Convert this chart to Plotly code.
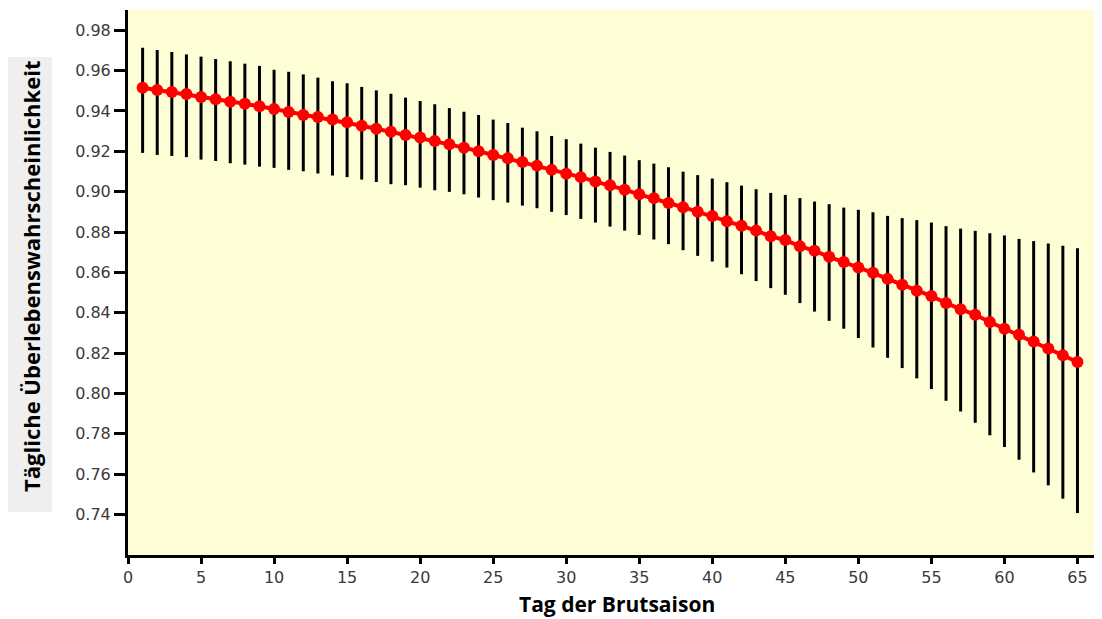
import plotly.graph_objects as go

days = list(range(1, 66))

mean = [0.9515, 0.9504, 0.9494, 0.9484, 0.9469, 0.9458, 0.9446, 0.9436, 0.9423, 0.9410,
        0.9395, 0.9380, 0.9370, 0.9357, 0.9344, 0.9327, 0.9312, 0.9297, 0.9281, 0.9268,
        0.9251, 0.9235, 0.9218, 0.9200, 0.9182, 0.9166, 0.9147, 0.9129, 0.9108, 0.9089,
        0.9072, 0.9050, 0.9032, 0.9010, 0.8987, 0.8968, 0.8944, 0.8923, 0.8900, 0.8879,
        0.8854, 0.8831, 0.8807, 0.8779, 0.8760, 0.8730, 0.8707, 0.8677, 0.8652, 0.8624,
        0.8598, 0.8568, 0.8539, 0.8509, 0.8483, 0.8448, 0.8418, 0.8390, 0.8354, 0.8321,
        0.8291, 0.8258, 0.8223, 0.8189, 0.8156]

upper = [0.9713, 0.9702, 0.9692, 0.9680, 0.9669, 0.9657, 0.9646, 0.9634, 0.9623, 0.9604,
         0.9594, 0.9581, 0.9565, 0.9547, 0.9537, 0.9519, 0.9502, 0.9485, 0.9466, 0.9449,
         0.9433, 0.9414, 0.9396, 0.9380, 0.9357, 0.9340, 0.9317, 0.9299, 0.9276, 0.9260,
         0.9238, 0.9218, 0.9197, 0.9179, 0.9156, 0.9139, 0.9121, 0.9099, 0.9082, 0.9065,
         0.9047, 0.9030, 0.9012, 0.8994, 0.8984, 0.8968, 0.8951, 0.8938, 0.8921, 0.8910,
         0.8898, 0.8880, 0.8869, 0.8859, 0.8847, 0.8829, 0.8817, 0.8806, 0.8794, 0.8783,
         0.8766, 0.8755, 0.8743, 0.8732, 0.8720]

lower = [0.9192, 0.9182, 0.9177, 0.9171, 0.9159, 0.9152, 0.9141, 0.9134, 0.9124, 0.9118,
         0.9108, 0.9101, 0.9090, 0.9080, 0.9072, 0.9060, 0.9048, 0.9037, 0.9032, 0.9020,
         0.9007, 0.8999, 0.8987, 0.8971, 0.8958, 0.8946, 0.8931, 0.8918, 0.8900, 0.8884,
         0.8865, 0.8847, 0.8827, 0.8807, 0.8786, 0.8763, 0.8740, 0.8710, 0.8682, 0.8654,
         0.8624, 0.8591, 0.8557, 0.8522, 0.8489, 0.8448, 0.8406, 0.8360, 0.8321, 0.8275,
         0.8228, 0.8177, 0.8126, 0.8075, 0.8022, 0.7964, 0.7911, 0.7855, 0.7793, 0.7735,
         0.7672, 0.7609, 0.7545, 0.7479, 0.7408]

x_ticks = list(range(0, 70, 5))
y_ticks = [0.74, 0.76, 0.78, 0.80, 0.82, 0.84, 0.86, 0.88, 0.90, 0.92, 0.94, 0.96, 0.98]

y_title = "Tägliche Überlebenswahrscheinlichkeit"
x_title = "Tag der Brutsaison"

err_plus = [u - m for u, m in zip(upper, mean)]
err_minus = [m - l for m, l in zip(mean, lower)]

fig = go.Figure()
fig.add_trace(go.Scatter(
    x=days, y=mean, mode="lines+markers",
    line=dict(color="#FF0000", width=4),
    marker=dict(color="#FF0000", size=12),
    error_y=dict(type="data", symmetric=False, array=err_plus, arrayminus=err_minus,
                 color="#000000", thickness=3, width=0),
    showlegend=False,
))

tick_font = dict(family="DejaVu Sans", size=16, color="#3a3a3a")

# page has an 8px body margin: plot area lands at page x 128..1095, y 10..555
fig.update_layout(
    width=1094, height=611,
    margin=dict(l=120, r=7, t=2, b=64),
    paper_bgcolor="#FFFFFF",
    plot_bgcolor="#FEFED6",
    xaxis=dict(range=[0, 66.2], tickvals=x_ticks, ticks="outside", ticklen=6, tickwidth=3,
               tickcolor="#000000", showline=True, linecolor="#000000", linewidth=3,
               showgrid=False, zeroline=False, tickfont=tick_font),
    yaxis=dict(range=[0.72, 0.99], tickvals=y_ticks, tickformat=".2f", ticks="outside",
               ticklen=11, tickwidth=3, tickcolor="#000000", showline=True,
               linecolor="#000000", linewidth=3, showgrid=False, zeroline=False,
               tickfont=tick_font),
    shapes=[dict(type="rect", xref="paper", yref="paper",
                 x0=(8 - 128) / 967, x1=(52 - 128) / 967,
                 y0=(555 - 512) / 545, y1=(555 - 57) / 545,
                 fillcolor="#EFEFEF", line=dict(width=0), layer="below")],
    annotations=[
        dict(text=y_title, textangle=-90, xref="paper", yref="paper",
             x=(31 - 128) / 967, y=(555 - 277) / 545, showarrow=False,
             font=dict(family="Open Sans", size=22, color="#000000", weight="bold"),
             xanchor="center", yanchor="middle"),
        dict(text=x_title, xref="paper", yref="paper",
             x=(617 - 128) / 967, y=(555 - 604) / 545, showarrow=False,
             font=dict(family="Open Sans", size=21, color="#000000", weight="bold"),
             xanchor="center", yanchor="middle"),
    ],
)

fig.write_html("out.html")
